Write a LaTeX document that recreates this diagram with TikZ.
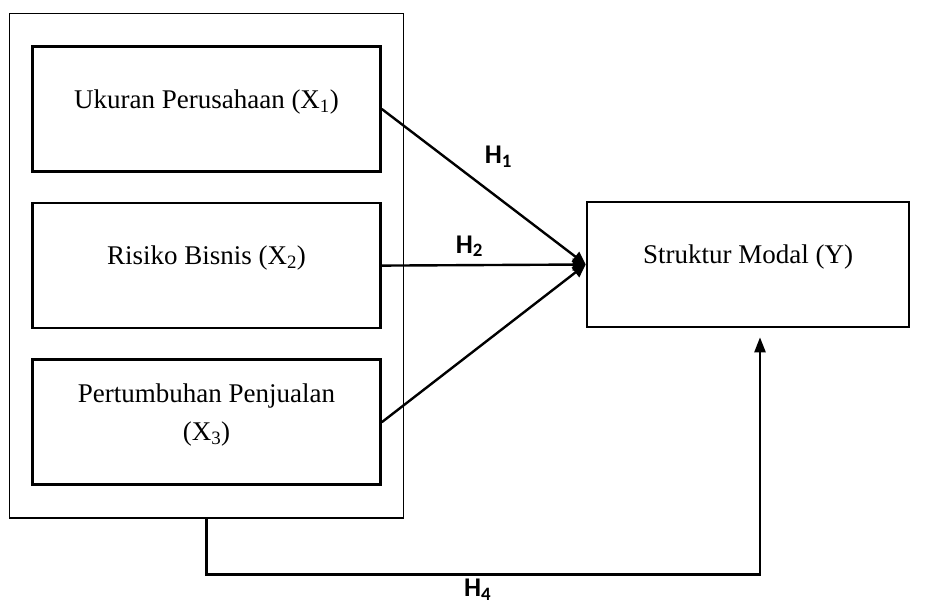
\documentclass[tikz,border=0pt]{standalone}
\usepackage{fontspec}
\setmainfont{Liberation Serif}
\newfontfamily\hfont{Carlito}
\usetikzlibrary{
    arrows.meta,
    positioning,
    fit
}

\begin{document}
\begin{tikzpicture}[
    x=1pt, y=-1pt,
    node distance=29pt,
    varbox/.style={rectangle, draw, line width=2.6pt, minimum height=125pt, minimum width=348pt, font=\fontsize{27}{38}\selectfont, text depth=20pt, align=center},
    groupbox/.style={rectangle, draw, line width=1.2pt, inner xsep=22pt, inner ysep=32pt},
    arrow/.style={-{Triangle[length=13pt,width=12pt]}, line width=2.4pt},
    hlabel/.style={font=\hfont\bfseries\fontsize{27}{30}\selectfont, inner sep=2pt}
]
\useasboundingbox (0,0) rectangle (927,607);

\node[varbox] (ukuran) at (206.5,109) {Ukuran Perusahaan (X\textsubscript{1})};
\node[varbox, below=of ukuran] (risiko) {Risiko Bisnis (X\textsubscript{2})};
\node[varbox, below=of risiko] (penjualan) {Pertumbuhan Penjualan\\ (X\textsubscript{3})};
\node[varbox, minimum width=322pt] (struktur) at (748,264.5) {Struktur Modal (Y)};

\node[groupbox, fit=(ukuran)(penjualan)] (group) {};

\draw[arrow] (ukuran.east) -- node[pos=0.46, above right, hlabel, xshift=6pt, yshift=10pt] (h1) {H\textsubscript{1}} (struktur.west);
\draw[arrow] (risiko.east) -- node[pos=0.43, above, hlabel, yshift=5pt] (h2) {H\textsubscript{2}} (struktur.west);
\draw[arrow] (penjualan.east) -- (struktur.west);

% simultaneous effect
\draw[arrow, -{Triangle[length=15pt,width=11pt]}, shorten >=9pt] (group.south) -- ++(0,56) -| node[below, hlabel, pos=0.245, yshift=-1pt] (h4) {H\textsubscript{4}} ([xshift=12pt]struktur.south);
\end{tikzpicture}
\end{document}
